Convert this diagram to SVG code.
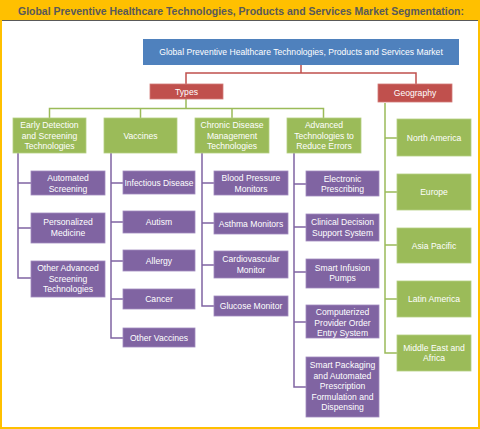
<svg xmlns="http://www.w3.org/2000/svg" width="480" height="429" viewBox="0 0 480 429">
<style>
.t{font-family:"Liberation Sans",Arial,sans-serif;font-size:8.6px;fill:#fff;text-anchor:middle}
.g rect{fill:#9bbb59;stroke:#b5cf82;stroke-width:0.8}
.p rect{fill:#8064a2;stroke:#a08bbf;stroke-width:0.8}
.r rect{fill:#c0504d;stroke:#d27b78;stroke-width:0.8}
.b rect{fill:#4f81bd}
.lg{stroke:#9bbb59;stroke-width:1.5;fill:none}
.lp{stroke:#8064a2;stroke-width:1.5;fill:none}
.lr{stroke:#c0504d;stroke-width:1.5;fill:none}
</style>
<rect x="0" y="0" width="480" height="429" fill="#fff"/>
<rect x="0" y="0" width="480" height="20" fill="#ffc000"/>
<line x1="2" y1="20.5" x2="478" y2="20.5" stroke="#595959" stroke-width="1"/>
<rect x="1" y="1" width="478" height="427" fill="none" stroke="#ffc000" stroke-width="2"/>
<text x="241" y="14.5" font-family="Liberation Sans,Arial,sans-serif" font-size="10.4" font-weight="bold" fill="#595959" text-anchor="middle" textLength="446" lengthAdjust="spacingAndGlyphs">Global Preventive Healthcare Technologies, Products and Services Market Segmentation:</text>

<g id="connectors">
<path class="lr" d="M301 65V73M186 84V73H416V84"/>
<path class="lg" d="M186 99V108.5M49.5 118V108.5H323.5V118M140.5 108.5V118M232 108.5V118"/>
<path class="lg" d="M385 103V353H397M385 138H397M385 192H397M385 245H397M385 299H397"/>
<path class="lp" d="M18 153V278H31M18 183H31M18 228H31"/>
<path class="lp" d="M111 153V338H123M111 183H123M111 222H123M111 261H123M111 299H123"/>
<path class="lp" d="M202 153V306H214M202 183H214M202 223H214M202 265H214"/>
<path class="lp" d="M294 153V387H306M294 184H306M294 227H306M294 272H306M294 322H306"/>
</g>

<g id="root" class="b"><rect x="143" y="39" width="316" height="26"/><text class="t" x="301" y="55">Global Preventive Healthcare Technologies, Products and Services Market</text></g>
<g id="types" class="r"><rect x="150" y="84" width="73" height="15"/><text class="t" x="186.5" y="94.5">Types</text></g>
<g id="geography" class="r"><rect x="378" y="84" width="74" height="18"/><text class="t" x="415" y="96">Geography</text></g>

<g id="early" class="g"><rect x="13" y="118" width="73" height="35"/><text class="t" x="49.5" y="128">Early Detection</text><text class="t" x="49.5" y="138.5">and Screening</text><text class="t" x="49.5" y="149">Technologies</text></g>
<g id="vaccines" class="g"><rect x="104" y="118" width="73" height="35"/><text class="t" x="140.5" y="138.5">Vaccines</text></g>
<g id="chronic" class="g"><rect x="195" y="118" width="74" height="35"/><text class="t" x="232" y="128">Chronic Disease</text><text class="t" x="232" y="138.5">Management</text><text class="t" x="232" y="149">Technologies</text></g>
<g id="advanced" class="g"><rect x="287" y="118" width="74" height="35"/><text class="t" x="324" y="128">Advanced</text><text class="t" x="324" y="138.5">Technologies to</text><text class="t" x="324" y="149">Reduce Errors</text></g>

<g id="automated" class="p"><rect x="31" y="171" width="74" height="24"/><text class="t" x="68" y="181">Automated</text><text class="t" x="68" y="191.5">Screening</text></g>
<g id="personalized" class="p"><rect x="31" y="213" width="74" height="30"/><text class="t" x="68" y="225">Personalized</text><text class="t" x="68" y="235.5">Medicine</text></g>
<g id="otheradv" class="p"><rect x="31" y="261" width="74" height="36"/><text class="t" x="68" y="271">Other Advanced</text><text class="t" x="68" y="281.5">Screening</text><text class="t" x="68" y="292">Technologies</text></g>

<g id="infectious" class="p"><rect x="123" y="171" width="72" height="23"/><text class="t" x="159" y="185.5" textLength="69" lengthAdjust="spacingAndGlyphs">Infectious Disease</text></g>
<g id="autism" class="p"><rect x="123" y="211" width="72" height="22"/><text class="t" x="159" y="225">Autism</text></g>
<g id="allergy" class="p"><rect x="123" y="250" width="72" height="21"/><text class="t" x="159" y="263.5">Allergy</text></g>
<g id="cancer" class="p"><rect x="123" y="289" width="72" height="20"/><text class="t" x="159" y="302">Cancer</text></g>
<g id="othervac" class="p"><rect x="123" y="328" width="72" height="19"/><text class="t" x="159" y="340.5">Other Vaccines</text></g>

<g id="bp" class="p"><rect x="214" y="171" width="74" height="24"/><text class="t" x="251" y="181">Blood Pressure</text><text class="t" x="251" y="191.5">Monitors</text></g>
<g id="asthma" class="p"><rect x="214" y="213" width="74" height="21"/><text class="t" x="251" y="226.5">Asthma Monitors</text></g>
<g id="cardio" class="p"><rect x="214" y="251" width="74" height="27"/><text class="t" x="251" y="262">Cardiovascular</text><text class="t" x="251" y="272.5">Monitor</text></g>
<g id="glucose" class="p"><rect x="214" y="296" width="74" height="20"/><text class="t" x="251" y="309">Glucose Monitor</text></g>

<g id="eprescribing" class="p"><rect x="306" y="171" width="73" height="25"/><text class="t" x="342.5" y="181.5">Electronic</text><text class="t" x="342.5" y="192">Prescribing</text></g>
<g id="cdss" class="p"><rect x="306" y="214" width="73" height="27"/><text class="t" x="342.5" y="225">Clinical Decision</text><text class="t" x="342.5" y="235.5">Support System</text></g>
<g id="infusion" class="p"><rect x="306" y="259" width="73" height="29"/><text class="t" x="342.5" y="270.5">Smart Infusion</text><text class="t" x="342.5" y="281">Pumps</text></g>
<g id="cpoe" class="p"><rect x="306" y="305" width="73" height="33"/><text class="t" x="342.5" y="315">Computerized</text><text class="t" x="342.5" y="325.5">Provider Order</text><text class="t" x="342.5" y="336">Entry System</text></g>
<g id="packaging" class="p"><rect x="306" y="357" width="73" height="60"/><text class="t" x="342.5" y="368">Smart Packaging</text><text class="t" x="342.5" y="378.5">and Automated</text><text class="t" x="342.5" y="389">Prescription</text><text class="t" x="342.5" y="399.5">Formulation and</text><text class="t" x="342.5" y="410">Dispensing</text></g>

<g id="northamerica" class="g"><rect x="397" y="119" width="74" height="37"/><text class="t" x="434" y="140.5">North America</text></g>
<g id="europe" class="g"><rect x="397" y="174" width="74" height="36"/><text class="t" x="434" y="194.5">Europe</text></g>
<g id="asiapacific" class="g"><rect x="397" y="228" width="74" height="35"/><text class="t" x="434" y="248.5">Asia Pacific</text></g>
<g id="latinamerica" class="g"><rect x="397" y="281" width="74" height="36"/><text class="t" x="434" y="302">Latin America</text></g>
<g id="middleeast" class="g"><rect x="397" y="335" width="74" height="36"/><text class="t" x="434" y="350.5">Middle East and</text><text class="t" x="434" y="361">Africa</text></g>
</svg>
